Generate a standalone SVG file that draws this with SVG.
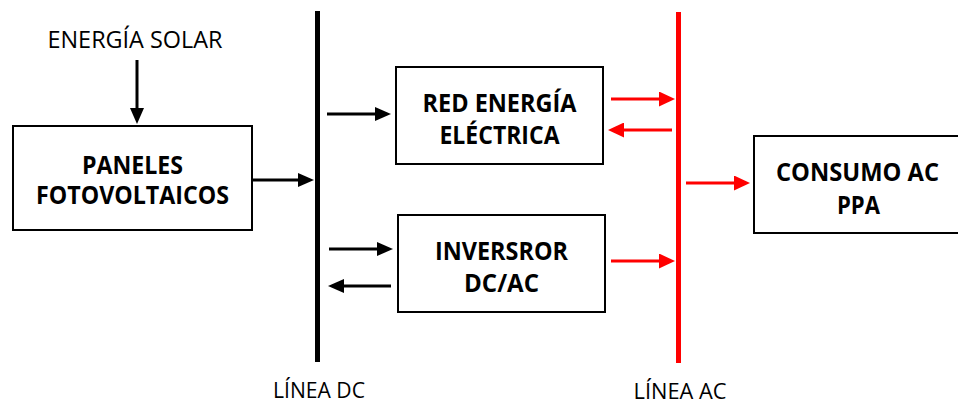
<svg xmlns="http://www.w3.org/2000/svg" width="958" height="403" viewBox="0 0 958 403">
<style>
.box{fill:#fff;stroke:#000;stroke-width:2}
.t{font-family:"Open Sans","Liberation Sans",sans-serif;fill:#000;text-anchor:middle}
.tb{font-family:"Open Sans","Liberation Sans",sans-serif;font-weight:bold;fill:#000;text-anchor:middle;font-size:24.5px}
.tl{font-size:24px}
.ts{font-size:22px}
.k{stroke:#000;stroke-width:3;fill:none}
.r{stroke:#ff0000;stroke-width:3;fill:none}
</style>
<defs>
<marker id="ak" markerUnits="userSpaceOnUse" markerWidth="16" markerHeight="14" refX="6" refY="7" orient="auto">
<path d="M0,0 L16,7 L0,14 z" fill="#000"/>
</marker>
<marker id="ar" markerUnits="userSpaceOnUse" markerWidth="16" markerHeight="15" refX="6" refY="7.5" orient="auto">
<path d="M0,0 L16,7.5 L0,15 z" fill="#ff0000"/>
</marker>
</defs>
<rect width="958" height="403" fill="#fff"/>
<g id="energia-solar">
<text class="t tl" x="135" y="48" textLength="175" lengthAdjust="spacingAndGlyphs">ENERGÍA SOLAR</text>
</g>
<g id="paneles">
<rect class="box" x="13" y="126" width="239" height="104"/>
<text class="tb" x="132.5" y="174" textLength="101" lengthAdjust="spacingAndGlyphs">PANELES</text>
<text class="tb" x="132.5" y="204" textLength="193" lengthAdjust="spacingAndGlyphs">FOTOVOLTAICOS</text>
</g>
<g id="linea-dc">
<line x1="317.5" y1="11" x2="317.5" y2="362" stroke="#000" stroke-width="5"/>
<text class="t ts" x="319" y="397.5" textLength="92" lengthAdjust="spacingAndGlyphs">LÍNEA DC</text>
</g>
<g id="red">
<rect class="box" x="396" y="67" width="207" height="97"/>
<text class="tb" x="499.5" y="112" textLength="154" lengthAdjust="spacingAndGlyphs">RED ENERGÍA</text>
<text class="tb" x="499.5" y="144" textLength="120" lengthAdjust="spacingAndGlyphs">ELÉCTRICA</text>
</g>
<g id="inversor">
<rect class="box" x="398" y="215" width="207" height="97"/>
<text class="tb" x="501.5" y="260" textLength="133" lengthAdjust="spacingAndGlyphs">INVERSROR</text>
<text class="tb" x="501.5" y="292" textLength="75" lengthAdjust="spacingAndGlyphs">DC/AC</text>
</g>
<g id="linea-ac">
<line x1="678.5" y1="12" x2="678.5" y2="363" stroke="#ff0000" stroke-width="5"/>
<text class="t ts" x="680" y="398.5" textLength="93" lengthAdjust="spacingAndGlyphs">LÍNEA AC</text>
</g>
<g id="consumo">
<rect class="box" x="754" y="136" width="220" height="97"/>
<text class="tb" x="857.5" y="181" textLength="163" lengthAdjust="spacingAndGlyphs">CONSUMO AC</text>
<text class="tb" x="858.5" y="213.5" textLength="43" lengthAdjust="spacingAndGlyphs">PPA</text>
</g>
<g id="connectors">
<line class="k" x1="137" y1="60" x2="137" y2="114" marker-end="url(#ak)"/>
<line class="k" x1="252" y1="180" x2="304" y2="180" marker-end="url(#ak)"/>
<line class="k" x1="327" y1="114" x2="381" y2="114" marker-end="url(#ak)"/>
<line class="k" x1="329" y1="249" x2="383" y2="249" marker-end="url(#ak)"/>
<line class="k" x1="391" y1="286" x2="338" y2="286" marker-end="url(#ak)"/>
<line class="r" x1="611" y1="99" x2="665" y2="99" marker-end="url(#ar)"/>
<line class="r" x1="672" y1="130" x2="618" y2="130" marker-end="url(#ar)"/>
<line class="r" x1="611" y1="261" x2="665" y2="261" marker-end="url(#ar)"/>
<line class="r" x1="686" y1="183" x2="740" y2="183" marker-end="url(#ar)"/>
</g>
</svg>
